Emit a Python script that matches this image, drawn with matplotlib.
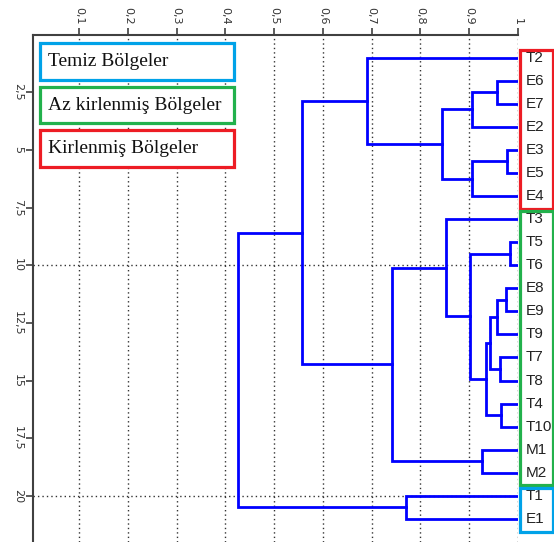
import matplotlib
matplotlib.use("Agg")
import matplotlib.pyplot as plt
from matplotlib.patches import Rectangle

# yapraklar, yukaridan asagiya
leaves = ["T2", "E6", "E7", "E2", "E3", "E5", "E4",
          "T3", "T5", "T6", "E8", "E9", "T9", "T7", "T8", "T4", "T10", "M1", "M2",
          "T1", "E1"]

# birlesmeler: (sol, sag, benzerlik); "#k" = k. birlesme
merges = [
    ("E6", "E7", 0.958),
    ("#0", "E2", 0.907),
    ("E3", "E5", 0.979),
    ("#2", "E4", 0.907),
    ("#1", "#3", 0.845),
    ("T2", "#4", 0.691),
    ("T5", "T6", 0.984),
    ("E8", "E9", 0.975),
    ("#7", "T9", 0.957),
    ("T7", "T8", 0.964),
    ("#8", "#9", 0.943),
    ("T4", "T10", 0.965),
    ("#10", "#11", 0.935),
    ("#6", "#12", 0.903),
    ("T3", "#13", 0.853),
    ("M1", "M2", 0.927),
    ("#14", "#15", 0.742),
    ("#5", "#16", 0.558),
    ("T1", "E1", 0.770),
    ("#17", "#18", 0.426),
]

sim_ticks = [0.1, 0.2, 0.3, 0.4, 0.5, 0.6, 0.7, 0.8, 0.9, 1.0]
row_ticks = [2.5, 5, 7.5, 10, 12.5, 15, 17.5, 20]
row_grid = [10, 20]

legend_labels = ["Temiz Bölgeler", "Az kirlenmiş Bölgeler", "Kirlenmiş Bölgeler"]
legend_colors = ["#00A2E8", "#22B14C", "#ED1C24"]

# yaprak kutulari: (ilk, son, renk)
leaf_boxes = [("T2", "E4", "#ED1C24"), ("T3", "M2", "#22B14C"), ("T1", "E1", "#00A2E8")]

W, H = 554, 542
fig = plt.figure(figsize=(W / 100, H / 100), dpi=100)
ax = fig.add_axes([33 / W, 0, (517.7 - 33) / W, 1 - 34.5 / H])

def comma(v):
    s = f"{v:g}"
    return s.replace(".", ",")

# izgara
grid_style = dict(color="#333333", lw=1.0, ls=(0, (1, 2.2)), zorder=1)
for x in sim_ticks:
    ax.axvline(x, **grid_style)
for y in row_grid:
    ax.axhline(y, **grid_style)

# dendrogram
pos = {name: i + 1 for i, name in enumerate(leaves)}
height = {name: 1.0 for name in leaves}
for k, (a, b, s) in enumerate(merges):
    ya, yb = pos[a], pos[b]
    ax.plot([height[a], s, s, height[b]], [ya, ya, yb, yb],
            color="#0000FF", lw=2.0, solid_joinstyle="miter", zorder=3)
    pos[f"#{k}"] = (ya + yb) / 2
    height[f"#{k}"] = s

for name in leaves:
    ax.annotate(name, (1.0, pos[name]), xytext=(6, 0), textcoords="offset points",
                va="center", ha="left", fontsize=11, color="#222222",
                family="Liberation Sans", annotation_clip=False)

for first, last, col in leaf_boxes:
    y0 = pos[first] - 0.33
    y1 = pos[last] + 0.55
    ax.add_patch(Rectangle((1.004, y0), 0.069, y1 - y0, fill=False,
                           edgecolor=col, lw=2.3, clip_on=False, zorder=4))

ax.set_xlim(0.005, 1.0)
ax.set_ylim(22, 0)

ax.xaxis.tick_top()
ax.set_xticks(sim_ticks)
ax.set_xticklabels([comma(v) for v in sim_ticks], rotation=-90)
ax.set_yticks(row_ticks)
ax.set_yticklabels([comma(v) for v in row_ticks], rotation=-90, va="center")
ax.tick_params(axis="both", direction="out", length=5, width=1.2, color="#404040",
               labelsize=8, labelcolor="#333333", pad=2)

for side in ["bottom", "right"]:
    ax.spines[side].set_visible(False)
for side in ["left", "top"]:
    ax.spines[side].set_color("#404040")
    ax.spines[side].set_linewidth(1.5)

# sol ust aciklama kutulari
box_rows = [(43.3, 80.0), (87.3, 123.3), (130.0, 167.3)]
for (top, bot), label, col in zip(box_rows, legend_labels, legend_colors):
    fig.add_artist(Rectangle((40 / W, 1 - bot / H), (234 - 40) / W, (bot - top) / H,
                             transform=fig.transFigure, facecolor="white",
                             edgecolor=col, lw=2.3, zorder=5))
    fig.text(48 / W, 1 - (top + bot) / 2 / H, label, fontsize=14,
             family="Liberation Serif", color="#111111", va="center", ha="left", zorder=6)

fig.savefig("out.png", dpi=100)
